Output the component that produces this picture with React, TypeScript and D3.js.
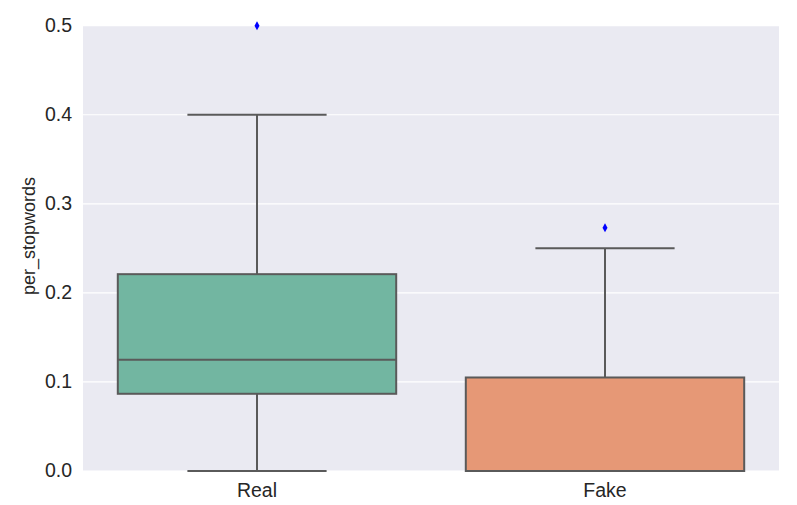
import React from "react";
import * as d3 from "d3";

const categories = ["Real", "Fake"];
const q1 = [0.0867, 0.0];
const medians = [0.125, 0.0];
const q3 = [0.221, 0.105];
const whiskerLow = [0.0, 0.0];
const whiskerHigh = [0.4, 0.25];
const outliers = [[0.5], [0.273]];
const colors = ["#72b6a1", "#e69876"];
const yTicks = [0, 0.1, 0.2, 0.3, 0.4, 0.5];

const W = 797, H = 505;
const M = { left: 83, right: 18, top: 25.7, bottom: 34 };

export default function App() {
  const x = d3.scaleBand().domain(categories).range([M.left, W - M.right]).padding(0);
  const y = d3.scaleLinear().domain([0, 0.5]).range([H - M.bottom, M.top]);
  const bw = x.bandwidth();
  const boxW = bw * 0.8;
  const capW = boxW / 2;
  const edge = "#5a5a5a";
  const font = "'Liberation Sans', Arial, sans-serif";
  const fs = 19.5;
  return (
    <svg width={W} height={H} style={{ position: "absolute", left: 0, top: 0 }}>
      <rect x={M.left} y={M.top} width={W - M.left - M.right} height={H - M.top - M.bottom} fill="#eaeaf2" />
      {yTicks.map((t) => (
        <g key={t}>
          <line x1={M.left} x2={W - M.right} y1={y(t)} y2={y(t)} stroke="#fff" strokeWidth={1.2} />
          <text x={72} y={y(t)} dy="0.3em" textAnchor="end" fontSize={fs} fill="#262626" fontFamily={font}>
            {t.toFixed(1)}
          </text>
        </g>
      ))}
      {categories.map((c, i) => {
        const cx = (x(c) as number) + bw / 2;
        return (
          <g key={c}>
            <line x1={cx} x2={cx} y1={y(q3[i])} y2={y(whiskerHigh[i])} stroke={edge} strokeWidth={2} />
            <line x1={cx} x2={cx} y1={y(q1[i])} y2={y(whiskerLow[i])} stroke={edge} strokeWidth={2} />
            <line x1={cx - capW / 2} x2={cx + capW / 2} y1={y(whiskerHigh[i])} y2={y(whiskerHigh[i])} stroke={edge} strokeWidth={2} />
            <line x1={cx - capW / 2} x2={cx + capW / 2} y1={y(whiskerLow[i])} y2={y(whiskerLow[i])} stroke={edge} strokeWidth={2} />
            <rect x={cx - boxW / 2} y={y(q3[i])} width={boxW} height={y(q1[i]) - y(q3[i])} fill={colors[i]} stroke={edge} strokeWidth={2} />
            <line x1={cx - boxW / 2} x2={cx + boxW / 2} y1={y(medians[i])} y2={y(medians[i])} stroke={edge} strokeWidth={2} />
            {outliers[i].map((o, j) => (
              <path key={j} d={`M${cx},${y(o) - 4.5}L${cx + 2.5},${y(o)}L${cx},${y(o) + 4.5}L${cx - 2.5},${y(o)}Z`} fill="#0000ff" />
            ))}
            <text x={cx} y={497} textAnchor="middle" fontSize={fs} fill="#262626" fontFamily={font}>
              {c}
            </text>
          </g>
        );
      })}
      <text transform={`translate(35,236) rotate(-90)`} textAnchor="middle" fontSize={18} fill="#262626" fontFamily={font}>
        per_stopwords
      </text>
    </svg>
  );
}
